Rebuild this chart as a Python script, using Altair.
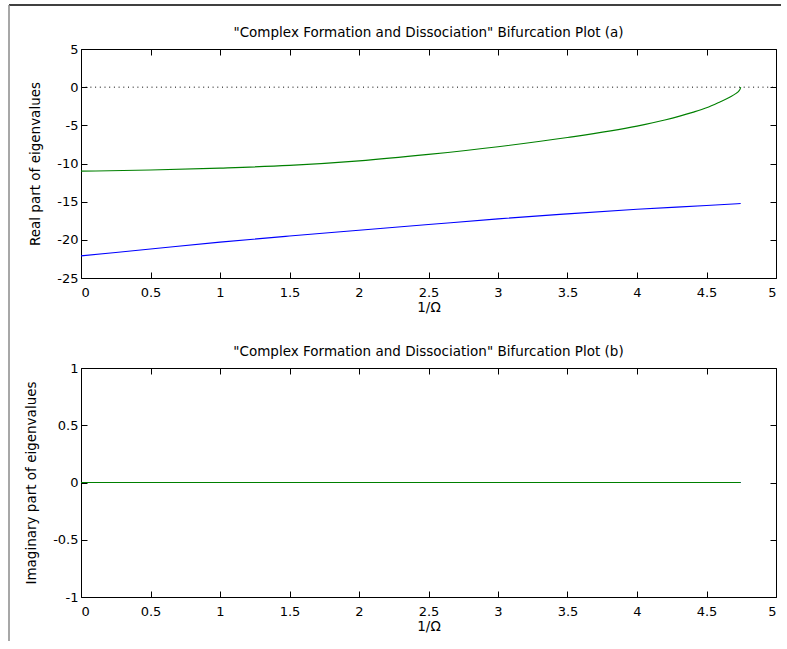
import altair as alt
import pandas as pd

# ---------------- data ----------------
blue_x = [0.0, 0.5, 1.0, 1.5, 2.0, 2.5, 3.0, 3.5, 4.0, 4.5, 4.746]
real_blue = [-22.1, -21.2, -20.3, -19.5, -18.75, -18.0, -17.25, -16.6, -16.0, -15.5, -15.24]
green_x = [0.0, 0.5, 1.0, 1.5, 2.0, 2.5, 3.0, 3.5, 4.0, 4.2, 4.4, 4.5, 4.6, 4.67, 4.71, 4.735, 4.743, 4.746]
real_green = [-11.0, -10.85, -10.6, -10.25, -9.65, -8.8, -7.8, -6.6, -5.1, -4.3, -3.3, -2.7,
              -1.9, -1.3, -0.85, -0.45, -0.2, 0.0]
imag_x = [0.0, 4.746]
imag_blue = [0.0, 0.0]
imag_green = [0.0, 0.0]
zero_x = [0.0, 5.0]
zero_y = [0.0, 0.0]

x_ticks = [0, 0.5, 1, 1.5, 2, 2.5, 3, 3.5, 4, 4.5, 5]
y_ticks_a = [-25, -20, -15, -10, -5, 0, 5]
y_ticks_b = [-1, -0.5, 0, 0.5, 1]

title_a = '"Complex Formation and Dissociation" Bifurcation Plot (a)'
title_b = '"Complex Formation and Dissociation" Bifurcation Plot (b)'

FONT = "DejaVu Sans"
FS_LABEL = 13
FS_TITLE = 13.5
W, H = 695, 229
BLUE = "#0000ff"
GREEN = "#008000"


def label_axes(yvals, ytitle):
    ax_x = alt.Axis(orient="bottom", values=x_ticks, labelExpr="'' + datum.value",
                    ticks=False, tickSize=0, domain=False, grid=False, title="1/Ω",
                    labelPadding=8, titlePadding=1)
    ax_y = alt.Axis(orient="left", values=yvals, labelExpr="'' + datum.value",
                    ticks=False, tickSize=0, domain=False, grid=False, title=ytitle,
                    labelPadding=3, titlePadding=14)
    return ax_x, ax_y


def tick_axes(yvals, xorient, yorient):
    ax_x = alt.Axis(orient=xorient, offset=-H, values=x_ticks, labels=False,
                    ticks=True, tickSize=6, tickColor="black", domain=False,
                    grid=False, title=None)
    ax_y = alt.Axis(orient=yorient, offset=-W, values=yvals, labels=False,
                    ticks=True, tickSize=6, tickColor="black", domain=False,
                    grid=False, title=None)
    return ax_x, ax_y


def panel(xb, yb, xg, yg, ydom, yvals, ytitle, title, title_offset, with_zero, extra=None):
    xsc = alt.Scale(domain=[0, 5], nice=False, zero=False)
    ysc = alt.Scale(domain=ydom, nice=False, zero=False)
    bdf = pd.DataFrame({"x": xb, "y": yb})
    gdf = pd.DataFrame({"x": xg, "y": yg})

    lx, ly = label_axes(yvals, ytitle)
    blue = alt.Chart(bdf).mark_line(color=BLUE, strokeWidth=1.1, interpolate="monotone").encode(
        x=alt.X("x:Q", scale=xsc, axis=lx),
        y=alt.Y("y:Q", scale=ysc, axis=ly),
    )
    tx, ty = tick_axes(yvals, "bottom", "left")
    green = alt.Chart(gdf).mark_line(color=GREEN, strokeWidth=1.1, interpolate="monotone").encode(
        x=alt.X("x:Q", scale=xsc, axis=tx),
        y=alt.Y("y:Q", scale=ysc, axis=ty),
    )
    tx2, ty2 = tick_axes(yvals, "top", "right")
    if with_zero:
        zdf = pd.DataFrame({"x": zero_x, "y": zero_y})
        third = alt.Chart(zdf).mark_line(color="black", strokeWidth=1, strokeDash=[1, 3.7]).encode(
            x=alt.X("x:Q", scale=xsc, axis=tx2),
            y=alt.Y("y:Q", scale=ysc, axis=ty2),
        )
        layers = [blue, third, green]
    else:
        third = alt.Chart(bdf).mark_line(opacity=0).encode(
            x=alt.X("x:Q", scale=xsc, axis=tx2),
            y=alt.Y("y:Q", scale=ysc, axis=ty2),
        )
        layers = [third, blue, green]
    if extra is not None:
        layers = layers + extra
    return alt.layer(*layers).resolve_axis(x="independent", y="independent").properties(
        width=W, height=H,
        title=alt.TitleParams(text=title, font=FONT, fontSize=FS_TITLE, fontWeight="normal",
                              color="black", anchor="middle", offset=title_offset),
    )


# window frame (decoration): top dark line and left grey line
frame_df = pd.DataFrame({"k": [0]})
frame_top = alt.Chart(frame_df).mark_rule(color="black", strokeWidth=1.5).encode(
    x=alt.value(-72), x2=alt.value(700), y=alt.value(-44))
frame_left = alt.Chart(frame_df).mark_rule(color="#8a8a8a", strokeWidth=1.5).encode(
    x=alt.value(-72), y=alt.value(-44), y2=alt.value(592))

top = panel(blue_x, real_blue, green_x, real_green, [-25, 5], y_ticks_a,
            "Real part of eigenvalues", title_a, -35, True, extra=[frame_top, frame_left])
bottom = panel(imag_x, imag_blue, imag_x, imag_green, [-1, 1], y_ticks_b,
               "Imaginary part of eigenvalues", title_b, 4, False)

chart = alt.vconcat(top, bottom, spacing=90, bounds="flush").properties(
    padding={"left": 7, "top": 3, "right": 0, "bottom": 4},
    background="white",
).configure_view(stroke="black", strokeWidth=1).configure_axis(
    labelFont=FONT, labelFontSize=FS_LABEL, labelColor="black",
    titleFont=FONT, titleFontSize=FS_TITLE, titleColor="black", titleFontWeight="normal",
)

chart.save("out.html", embed_options={"renderer": "svg", "actions": False})
